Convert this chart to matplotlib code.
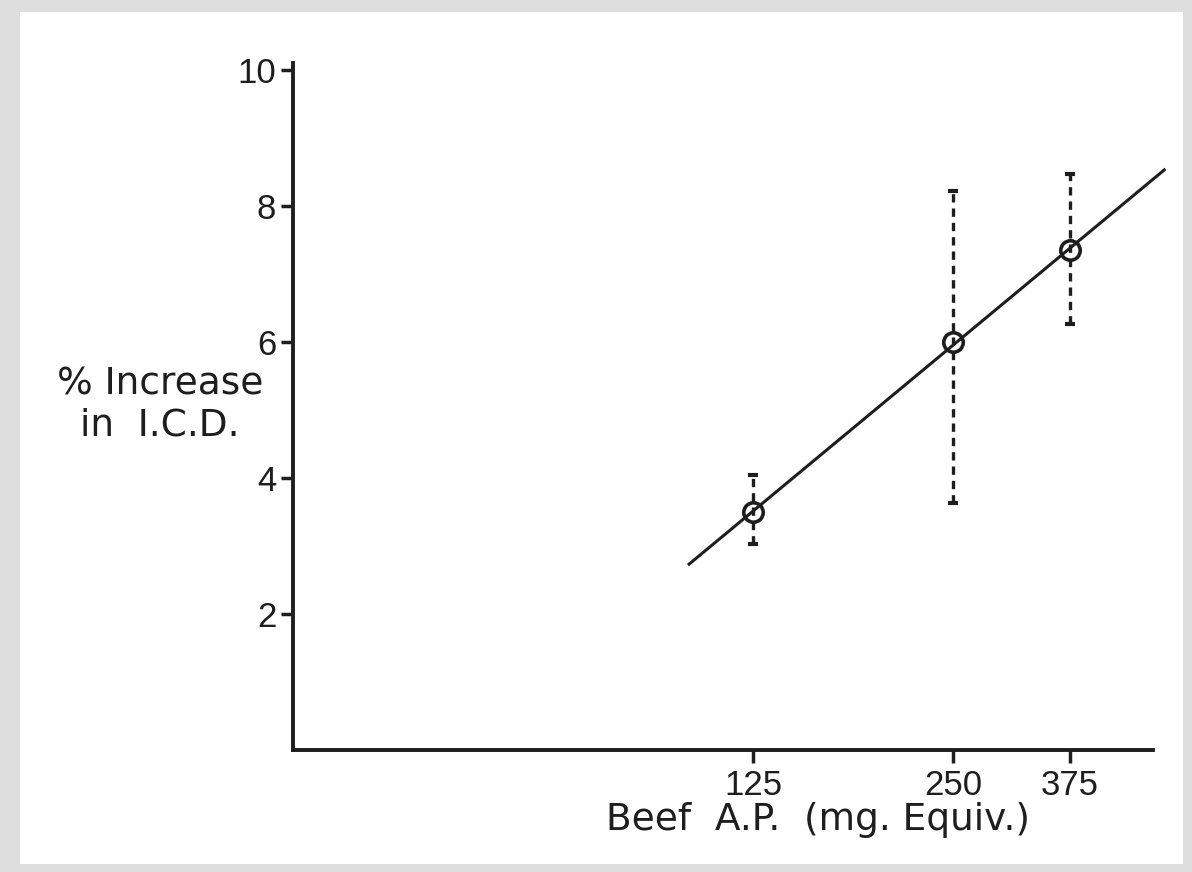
import numpy as np
import matplotlib.pyplot as plt
from matplotlib.patches import Rectangle
from matplotlib.ticker import FixedLocator, NullLocator

# dose (mg. equiv.) and mean % increase in I.C.D., with error bar limits
dose = [125, 250, 375]
increase = [3.5, 6.0, 7.35]
err_low = [3.03, 3.63, 6.26]
err_high = [4.04, 8.22, 8.47]

xticks = [125, 250, 375]
yticks = [2, 4, 6, 8, 10]

plt.rcParams['font.family'] = ['Liberation Sans', 'DejaVu Sans']
label_font = ['DejaVu Sans']

fig = plt.figure(figsize=(11.92, 8.72), dpi=100)
fig.patch.set_facecolor('#dedede')
# the white sheet
fig.patches.append(Rectangle((20 / 1192, 1 - 864 / 872), 1163 / 1192, 852 / 872,
                             transform=fig.transFigure, facecolor='white',
                             edgecolor='none', zorder=-5))

ax = fig.add_axes([293 / 1192, 1 - 750 / 872, (1153 - 293) / 1192, 687 / 872])
ax.set_zorder(2)
ax.set_facecolor('none')
ax.set_xscale('log')
ax.set_xlim(25.3, 500)
ax.set_ylim(0, 10.1)

ink = '#1e1e1e'

# fitted line through the means, y = a + b*ln(x)
b, a = np.polyfit(np.log(dose), increase, 1)
xf = np.array([100, 520])
ax.plot(xf, a + b * np.log(xf), color=ink, lw=2.2, clip_on=False, zorder=3)

# dashed error bars
yerr = [np.array(increase) - np.array(err_low), np.array(err_high) - np.array(increase)]
eb = ax.errorbar(dose, increase, yerr=yerr, fmt='none', ecolor=ink, elinewidth=2.4,
                 capsize=3.5, capthick=3, zorder=2)
eb[2][0].set_linestyle((0, (2.5, 1.8)))

ax.plot(dose, increase, 'o', ms=14, mfc='none', mec=ink, mew=2.6, zorder=4)

for s in ['top', 'right']:
    ax.spines[s].set_visible(False)
for s in ['left', 'bottom']:
    ax.spines[s].set_linewidth(2.8)
    ax.spines[s].set_color(ink)

ax.xaxis.set_major_locator(FixedLocator(xticks))
ax.xaxis.set_minor_locator(NullLocator())
ax.set_xticklabels([str(v) for v in xticks])
ax.set_yticks(yticks)
ax.set_yticklabels([str(v) for v in yticks])
ax.tick_params(axis='both', colors=ink, labelcolor=ink, labelsize=25,
               width=2.5, length=9, direction='out')
ax.tick_params(axis='x', pad=5)
ax.tick_params(axis='y', pad=3)

ax.set_xlabel('Beef  A.P.  (mg. Equiv.)', fontsize=27, color=ink, family=label_font)
ax.xaxis.set_label_coords(0.61, -0.075)
fig.text(160 / 1192, 1 - 405 / 872, '% Increase\nin  I.C.D.', fontsize=27,
         color=ink, ha='center', va='center', linespacing=1.2, family=label_font)

fig.savefig('out.png', dpi=100, facecolor=fig.get_facecolor())
